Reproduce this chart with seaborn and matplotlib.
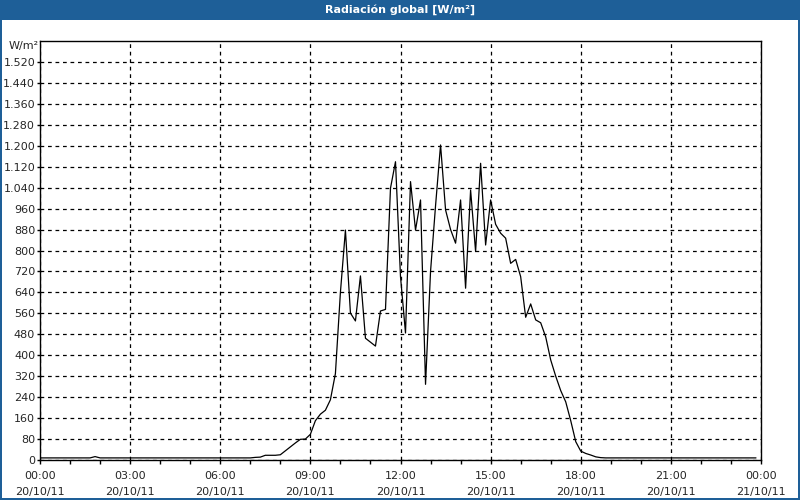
import matplotlib
matplotlib.use("Agg")
import matplotlib.pyplot as plt
import matplotlib.patches as mpatches
from matplotlib.ticker import FuncFormatter, MultipleLocator
import numpy as np
import pandas as pd
import seaborn as sns

title = "Radiación global [W/m²]"
unit_label = "W/m²"
x_tick_labels = ["00:00\n20/10/11", "03:00\n20/10/11", "06:00\n20/10/11",
                 "09:00\n20/10/11", "12:00\n20/10/11", "15:00\n20/10/11",
                 "18:00\n20/10/11", "21:00\n20/10/11", "00:00\n21/10/11"]

# 10-minute samples from 00:00 to 23:50
night_am = [8, 8, 8, 8, 8, 8, 8, 8, 8, 8, 8, 13, 8, 8, 8, 8, 8, 8, 8, 8,
            8, 8, 8, 8, 8, 8, 8, 8, 8, 8, 8, 8, 8, 8, 8, 8, 8, 8, 8, 8,
            8, 8, 8]
morning = [10, 11, 18, 18, 18, 20, 35, 50, 65, 79, 80, 98, 150, 175, 190,
           230, 330, 640, 878, 561, 531, 703, 465, 450, 435, 569, 575,
           1038, 1139, 700]
midday = [485, 1063, 878, 993, 289, 720, 971, 1203, 955, 880, 828, 993,
          656, 1031, 796, 1133, 821, 993, 900, 866, 847, 751, 766, 700,
          545, 596, 535, 524, 470, 382, 320, 265, 222, 150, 70, 34, 25,
          19, 12, 9]
night_pm = [8] * 31

values = night_am + morning + midday + night_pm
hours = [i / 6 for i in range(len(values))]
df = pd.DataFrame({"hour": hours, "rad": values})

sns.set_theme(style="white")
plt.rcParams["font.family"] = ["DejaVu Sans"]

fig = plt.figure(figsize=(8, 5), dpi=100)
fig.patch.set_facecolor("white")

ax = fig.add_axes([40 / 800, 40 / 500, 721 / 800, 419 / 500])
sns.lineplot(data=df, x="hour", y="rad", ax=ax, color="black", linewidth=0.9)

ax.set_xlim(0, 24)
ax.set_ylim(0, 1600)
ax.set_xticks(np.arange(0, 25, 3))
ax.set_xticklabels(x_tick_labels, fontsize=8, linespacing=1.75)
ax.xaxis.set_minor_locator(MultipleLocator(1))
ax.set_yticks(np.arange(0, 1521, 80))
ax.yaxis.set_major_formatter(FuncFormatter(lambda v, p: f"{int(v):,}".replace(",", ".")))
ax.tick_params(axis="y", labelsize=8, length=2, width=1, color="black", left=True, pad=1.5)
ax.tick_params(axis="x", which="both", length=3, width=1, color="black", bottom=True, pad=5)
ax.set_xlabel("")
ax.set_ylabel("")
ax.grid(True, which="major", linestyle=(0, (3, 3)), color="black", linewidth=0.9)
for s in ax.spines.values():
    s.set_color("black")
    s.set_linewidth(1)
ax.set_facecolor("white")

fig.text(24 / 800, 1 - 46 / 500, unit_label, fontsize=8, ha="center", va="center")

# title bar and border
bar_color = "#1e5f98"
fig.patches.append(mpatches.Rectangle((0, 1 - 20 / 500), 1, 20 / 500, transform=fig.transFigure,
                                      facecolor=bar_color, edgecolor="none", zorder=0))
fig.patches.append(mpatches.Rectangle((0, 0), 2 / 800, 1, transform=fig.transFigure,
                                      facecolor=bar_color, edgecolor="none"))
fig.patches.append(mpatches.Rectangle((1 - 2 / 800, 0), 2 / 800, 1, transform=fig.transFigure,
                                      facecolor=bar_color, edgecolor="none"))
fig.patches.append(mpatches.Rectangle((0, 0), 1, 2 / 500, transform=fig.transFigure,
                                      facecolor=bar_color, edgecolor="none"))
fig.text(0.5, 1 - 10 / 500, title, color="white", fontsize=8, fontweight="bold",
         ha="center", va="center")

fig.savefig("out.png", dpi=100)
